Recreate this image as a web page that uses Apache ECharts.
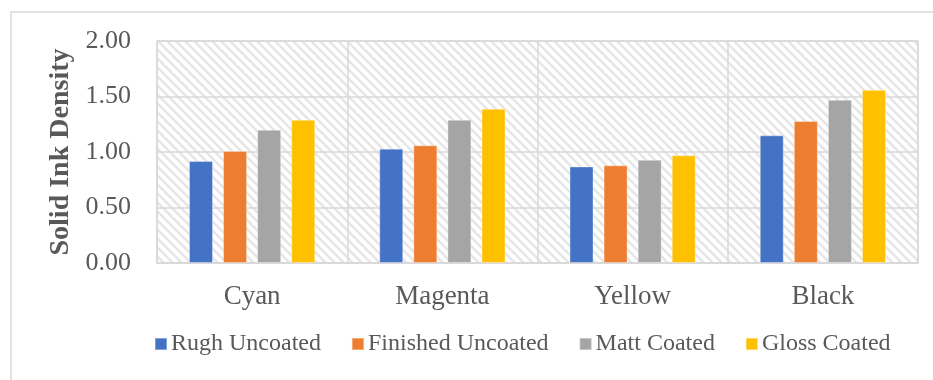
<!DOCTYPE html>
<html style="height: 100%">
<head>
<meta charset="utf-8">
<script src="https://cdn.jsdelivr.net/npm/echarts@6/dist/echarts.min.js"></script>
</head>
<body style="height: 100%; margin: 0; background: #fff">
<div id="container" style="width: 933px; height: 380px"></div>
<script>
// chart data
var categories = ['Cyan', 'Magenta', 'Yellow', 'Black'];
var seriesNames = ['Rugh Uncoated', 'Finished Uncoated', 'Matt Coated', 'Gloss Coated'];
var rughUncoated = [0.92, 1.03, 0.87, 1.15];
var finishedUncoated = [1.01, 1.06, 0.88, 1.28];
var mattCoated = [1.20, 1.29, 0.93, 1.47];
var glossCoated = [1.29, 1.39, 0.97, 1.56];
var colors = ['#4472c4', '#ed7d31', '#a5a5a5', '#ffc000'];

// diagonal hatch for the plot area
var tile = document.createElement('canvas');
tile.width = 9; tile.height = 9;
var ctx = tile.getContext('2d');
ctx.fillStyle = '#ffffff';
ctx.fillRect(0, 0, 9, 9);
ctx.strokeStyle = '#e6e6e6';
ctx.lineWidth = 2.5;
ctx.beginPath();
ctx.moveTo(-9, -9); ctx.lineTo(18, 18);
ctx.moveTo(-9, 0); ctx.lineTo(9, 18);
ctx.moveTo(0, -9); ctx.lineTo(18, 9);
ctx.stroke();

var font = 'Liberation Serif';
var myChart = echarts.init(document.getElementById('container'));

var allValues = [rughUncoated, finishedUncoated, mattCoated, glossCoated];
var series = allValues.map(function (vals, i) {
    return {
        name: seriesNames[i],
        type: 'bar',
        data: vals,
        barWidth: 24,
        barGap: '42%',
        itemStyle: { color: colors[i], borderColor: 'rgba(255,255,255,0.35)', borderWidth: 1 }
    };
});

var option = {
    animation: false,
    graphic: [{
        type: 'rect',
        shape: { x: 11, y: 12, width: 940, height: 400 },
        style: { fill: 'none', stroke: '#d9d9d9', lineWidth: 1.5 },
        silent: true
    }],
    grid: {
        left: 157, right: 15, top: 41, bottom: 117,
        show: true,
        backgroundColor: { image: tile, repeat: 'repeat' },
        borderColor: '#d9d9d9',
        borderWidth: 1.5
    },
    legend: {
        data: seriesNames,
        top: 327,
        left: 149,
        itemWidth: 12,
        itemHeight: 12,
        itemGap: 30,
        icon: 'rect',
        textStyle: { fontFamily: font, fontSize: 24, color: '#595959', padding: [0, 0, 0, -1] }
    },
    xAxis: {
        type: 'category',
        data: categories,
        axisLine: { lineStyle: { color: '#d9d9d9', width: 1.5 } },
        axisTick: { show: false },
        splitLine: { show: true, lineStyle: { color: '#d9d9d9', width: 1.5 } },
        axisLabel: { fontFamily: font, fontSize: 27, color: '#595959', margin: 20 }
    },
    yAxis: {
        type: 'value',
        min: 0, max: 2, interval: 0.5,
        name: 'Solid Ink Density',
        nameLocation: 'middle',
        nameGap: 81,
        nameTextStyle: { fontFamily: font, fontSize: 28, fontWeight: 'bold', color: '#595959' },
        axisLine: { show: false },
        axisTick: { show: false },
        splitLine: { lineStyle: { color: '#d9d9d9', width: 1.5 } },
        axisLabel: {
            fontFamily: font, fontSize: 26, color: '#595959', margin: 26,
            formatter: function (v) { return v.toFixed(2); }
        }
    },
    series: series
};

myChart.setOption(option);
</script>
</body>
</html>
